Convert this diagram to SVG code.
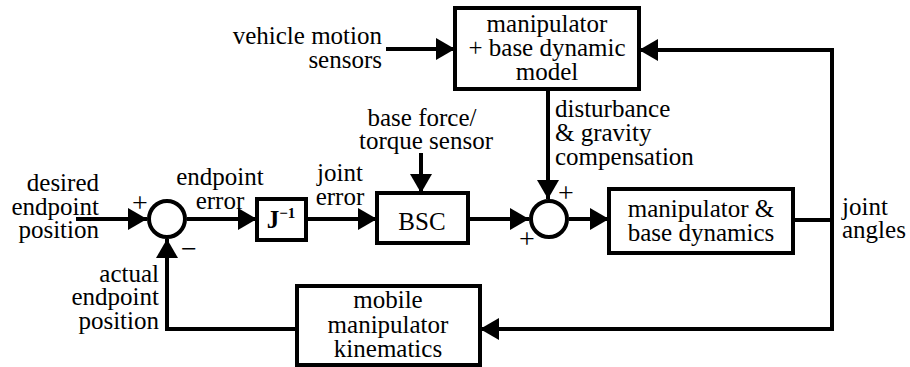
<svg xmlns="http://www.w3.org/2000/svg" width="910" height="367" viewBox="0 0 910 367" font-family="Liberation Serif, Times New Roman, serif" font-size="25">
<style>
.box{fill:#fff;stroke:#000;stroke-width:4}
.sum{fill:#fff;stroke:#000;stroke-width:4}
.ln{fill:none;stroke:#000;stroke-width:4}
.mid{text-anchor:middle}
.end{text-anchor:end}
.sign{font-size:28px;text-anchor:middle}
</style>
<defs>
<marker id="ah" markerUnits="userSpaceOnUse" markerWidth="20" markerHeight="24" refX="19" refY="11" orient="auto">
<path d="M0,0 L19,11 L0,22 z" fill="#000"/>
</marker>
</defs>
<rect width="910" height="367" fill="#fff"/>
<g id="connectors">
<line class="ln" x1="76" y1="219" x2="147" y2="219" marker-end="url(#ah)"/>
<line class="ln" x1="187" y1="219" x2="257" y2="219" marker-end="url(#ah)"/>
<line class="ln" x1="306" y1="219" x2="377" y2="219" marker-end="url(#ah)"/>
<line class="ln" x1="421" y1="153" x2="421" y2="193" marker-end="url(#ah)"/>
<line class="ln" x1="468" y1="219" x2="529" y2="219" marker-end="url(#ah)"/>
<line class="ln" x1="386" y1="49" x2="455" y2="49" marker-end="url(#ah)"/>
<line class="ln" x1="548" y1="89" x2="548" y2="199" marker-end="url(#ah)"/>
<line class="ln" x1="569" y1="219" x2="609" y2="219" marker-end="url(#ah)"/>
<line class="ln" x1="793" y1="220" x2="832" y2="220"/>
<line class="ln" x1="832" y1="48" x2="832" y2="331"/>
<line class="ln" x1="834" y1="50" x2="639" y2="50" marker-end="url(#ah)"/>
<line class="ln" x1="834" y1="329" x2="480" y2="329" marker-end="url(#ah)"/>
<polyline class="ln" points="297,329 167,329 167,239" marker-end="url(#ah)"/>
</g>
<g id="sum1">
<circle class="sum" cx="167" cy="219" r="18"/>
<text class="sign" x="140" y="212">+</text>
<text class="sign" x="189" y="258">−</text>
</g>
<g id="sum2">
<circle class="sum" cx="549" cy="219" r="18"/>
<text class="sign" x="566" y="202">+</text>
<text class="sign" x="527" y="248">+</text>
</g>
<g id="jinv">
<rect class="box" x="257" y="199" width="49" height="41"/>
<text x="281" y="228" class="mid" font-weight="bold">J<tspan font-size="15" dy="-10">−1</tspan></text>
</g>
<g id="bsc">
<rect class="box" x="377" y="193" width="91" height="50"/>
<text x="422" y="230" class="mid">BSC</text>
</g>
<g id="dynmodel">
<rect class="box" x="455" y="8" width="184" height="81"/>
<text x="547" y="32" class="mid">manipulator</text>
<text x="547" y="56" class="mid">+ base dynamic</text>
<text x="547" y="80" class="mid">model</text>
</g>
<g id="plant">
<rect class="box" x="609" y="189" width="184" height="64"/>
<text x="701" y="217" class="mid">manipulator &amp;</text>
<text x="701" y="241" class="mid">base dynamics</text>
</g>
<g id="kinematics">
<rect class="box" x="297" y="286" width="183" height="79"/>
<text x="388" y="308" class="mid">mobile</text>
<text x="388" y="333" class="mid">manipulator</text>
<text x="388" y="357" class="mid">kinematics</text>
</g>
<g id="labels">
<text x="99" y="191" class="end">desired</text>
<text x="99" y="214.5" class="end">endpoint</text>
<text x="99" y="238" class="end">position</text>
<text x="220" y="185" class="mid">endpoint</text>
<text x="220" y="209" class="mid">error</text>
<text x="340" y="181" class="mid">joint</text>
<text x="340" y="205" class="mid">error</text>
<text x="382" y="44" class="end">vehicle motion</text>
<text x="382" y="68" class="end">sensors</text>
<text x="422" y="126" class="mid">base force/</text>
<text x="426" y="149" class="mid">torque sensor</text>
<text x="555" y="117">disturbance</text>
<text x="555" y="141">&amp; gravity</text>
<text x="555" y="165">compensation</text>
<text x="842" y="215">joint</text>
<text x="842" y="238">angles</text>
<text x="159" y="282" class="end">actual</text>
<text x="159" y="305" class="end">endpoint</text>
<text x="159" y="329" class="end">position</text>
</g>
</svg>
